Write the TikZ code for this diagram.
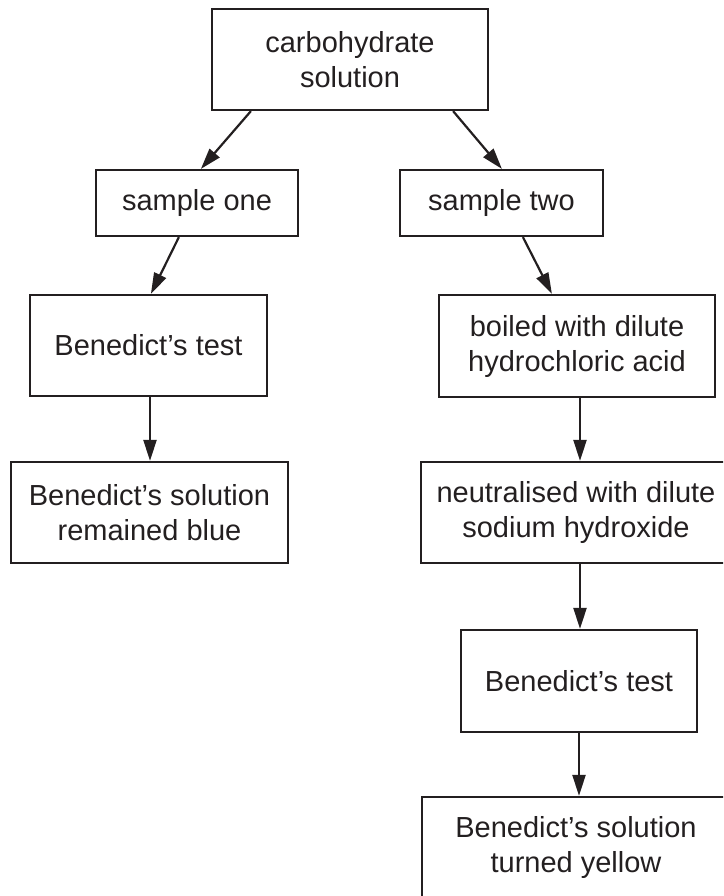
\documentclass[tikz,border=0pt]{standalone}
\usepackage{fontspec}
\setmainfont{Liberation Sans}
\usetikzlibrary{arrows.meta}
\definecolor{ink}{HTML}{231F20}
\tikzset{
  box/.style={draw=ink, text=ink, line width=2.2pt, inner sep=0pt, align=center,
    font=\fontsize{29}{35}\selectfont},
  arr/.style={draw=ink, line width=2.2pt, -{Triangle[length=21pt,width=13pt]}}
}
\begin{document}
\begin{tikzpicture}[x=1pt,y=-1pt]
\useasboundingbox (0,0) rectangle (723,896);
\clip (0,0) rectangle (723,896);
\node[box, minimum width=276pt, minimum height=101pt] (carb) at (350,59.5) {carbohydrate\\solution};
\node[box, minimum width=202pt, minimum height=66pt] (s1) at (197,203) {sample one};
\node[box, minimum width=203pt, minimum height=66pt] (s2) at (501.5,203) {sample two};
\node[box, minimum width=237pt, minimum height=101pt] (bt1) at (148.5,345.5) {Benedict’s test};
\node[box, minimum width=277pt, minimum height=101pt] (blue) at (149.5,512.5) {Benedict’s solution\\remained blue};
\node[box, minimum width=276pt, minimum height=102pt] (boil) at (577,346) {boiled with dilute\\hydrochloric acid};
\node[box, minimum width=310pt, minimum height=101pt] (neut) at (576,512.5) {neutralised with dilute\\sodium hydroxide};
\node[box, minimum width=236pt, minimum height=102pt] (bt2) at (579,681) {Benedict’s test};
\node[box, minimum width=308pt, minimum height=101pt] (yel) at (576,847.5) {Benedict’s solution\\turned yellow};
\draw[arr] ([xshift=40pt]carb.south west) -- ([xshift=106pt]s1.north west);
\draw[arr] ([xshift=-36pt]carb.south east) -- ([xshift=103pt]s2.north west);
\draw[arr] ([xshift=84pt]s1.south west) -- ([xshift=122pt]bt1.north west);
\draw[arr] ([xshift=124pt]s2.south west) -- ([xshift=114pt]boil.north west);
\draw[arr] ([xshift=1.5pt]bt1.south) -- ([xshift=1.5pt]bt1.south |- blue.north);
\draw[arr] ([xshift=3pt]boil.south) -- ([xshift=3pt]boil.south |- neut.north);
\draw[arr] ([xshift=4pt]neut.south) -- ([xshift=4pt]neut.south |- bt2.north);
\draw[arr] (bt2.south) -- (bt2.south |- yel.north);
\end{tikzpicture}
\end{document}
